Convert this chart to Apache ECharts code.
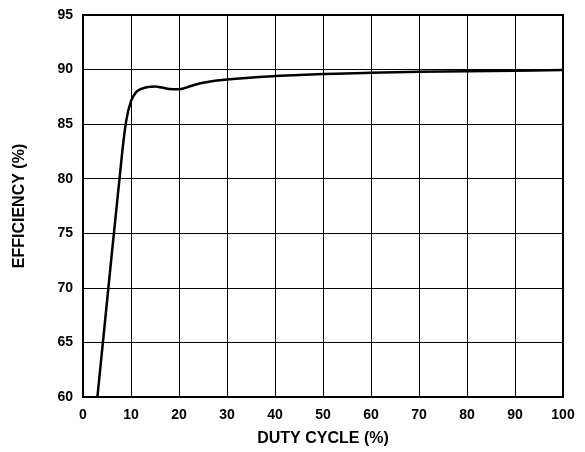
<!DOCTYPE html>
<html><head><meta charset="utf-8">
<script src="https://cdn.jsdelivr.net/npm/echarts@6/dist/echarts.min.js"></script>
<style>html,body{margin:0;padding:0;background:#fff}#c{width:585px;height:452px}</style>
</head><body><div id="c"></div>
<script>
const dutyCycle = [3, 8, 9, 10, 11, 12, 13.5, 15, 16.5, 18, 20, 22.5, 25, 30, 40, 50, 60, 70, 80, 90, 100];
const efficiency = [60, 81.7, 85.3, 87.1, 87.9, 88.2, 88.4, 88.45, 88.35, 88.22, 88.2, 88.5, 88.8, 89.1, 89.4, 89.6, 89.7, 89.8, 89.85, 89.9, 89.95];
const xTicks = [0, 10, 20, 30, 40, 50, 60, 70, 80, 90, 100];
const yTicks = [60, 65, 70, 75, 80, 85, 90, 95];
const font = 'Liberation Sans, Arial, sans-serif';
const chart = echarts.init(document.getElementById('c'));
chart.setOption({
  animation: false,
  grid: {left: 83, top: 15, width: 480, height: 384, show: true, borderColor: '#000', borderWidth: 2, backgroundColor: 'transparent'},
  xAxis: {
    type: 'value', min: xTicks[0], max: xTicks[xTicks.length - 1], interval: 10,
    name: 'DUTY CYCLE (%)', nameLocation: 'middle', nameGap: 34,
    nameTextStyle: {fontFamily: font, fontWeight: 'bold', fontSize: 16, color: '#000'},
    axisLine: {show: true, lineStyle: {color: '#000', width: 2}},
    axisTick: {show: false},
    axisLabel: {fontFamily: font, fontWeight: 'bold', fontSize: 14, color: '#000', margin: 11},
    splitLine: {show: true, lineStyle: {color: '#000', width: 1}}
  },
  yAxis: {
    type: 'value', min: yTicks[0], max: yTicks[yTicks.length - 1], interval: 5,
    name: 'EFFICIENCY (%)', nameLocation: 'middle', nameGap: 55, nameRotate: 90,
    nameTextStyle: {fontFamily: font, fontWeight: 'bold', fontSize: 16, color: '#000'},
    axisLine: {show: true, lineStyle: {color: '#000', width: 2}},
    axisTick: {show: false},
    axisLabel: {fontFamily: font, fontWeight: 'bold', fontSize: 14, color: '#000', margin: 10},
    splitLine: {show: true, lineStyle: {color: '#000', width: 1}}
  },
  series: [{
    type: 'line', data: dutyCycle.map((x, i) => [x, efficiency[i]]),
    smooth: 0.35, symbol: 'none',
    lineStyle: {color: '#000', width: 2.5}
  }]
});
</script></body></html>
